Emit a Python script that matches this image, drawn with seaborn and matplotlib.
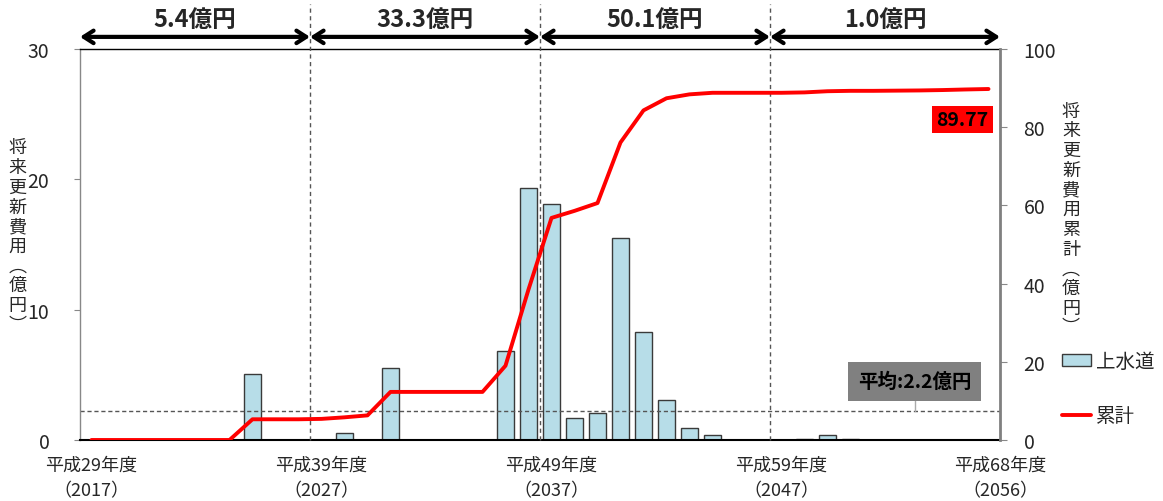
import numpy as np
import pandas as pd
import matplotlib
matplotlib.use("Agg")
import matplotlib.pyplot as plt
import matplotlib.transforms as mtransforms
from matplotlib.patches import Patch
from matplotlib.lines import Line2D
import seaborn as sns

# Fiscal years 2017..2056
years = list(range(2017, 2057))

# Annual renewal cost of the water supply (上水道), 億円
annual_cost = [
    0, 0, 0, 0, 0, 0, 0, 5.1, 0, 0,            # 2017-2026
    0, 0.5, 0, 5.5, 0, 0, 0, 0, 6.8, 19.3,     # 2027-2036
    18.1, 1.7, 2.05, 15.5, 8.3, 3.1, 0.95, 0.4, 0, 0,  # 2037-2046
    0, 0.08, 0.35, 0.05, 0, 0, 0, 0, 0, 0,     # 2047-2056
]

# Cumulative renewal cost (累計), 億円
cumulative = [
    0, 0, 0, 0, 0, 0, 0, 5.3, 5.3, 5.3,
    5.4, 5.8, 6.3, 12.3, 12.3, 12.3, 12.3, 12.3, 19.0, 38.5,
    56.8, 58.6, 60.6, 76.1, 84.3, 87.4, 88.4, 88.8, 88.8, 88.8,
    88.8, 88.9, 89.2, 89.3, 89.3, 89.35, 89.4, 89.5, 89.65, 89.77,
]

# Ten-year period totals (億円)
period_totals = ["5.4億円", "33.3億円", "50.1億円", "1.0億円"]
period_bounds = [(2017, 2026), (2027, 2036), (2037, 2046), (2047, 2056)]

average_cost = 2.2
final_total = 89.77

label_years = [2017, 2027, 2037, 2047, 2056]
label_texts = ["平成29年度\n（2017）", "平成39年度\n（2027）", "平成49年度\n（2037）",
               "平成59年度\n（2047）", "平成68年度\n（2056）"]

sns.set_style("white")
plt.rcParams["font.family"] = ["Noto Sans CJK JP", "DejaVu Sans"]

bar_color = "#B7DDE8"
bar_edge = "#3a3a3a"

df = pd.DataFrame({"year": [str(y) for y in years], "cost": annual_cost,
                   "idx": np.arange(len(years)), "cum": cumulative})

fig = plt.figure(figsize=(11.63, 5.02), dpi=100)
ax = fig.add_axes([80 / 1163, 61 / 502, 920 / 1163, 391 / 502])

sns.barplot(data=df, x="year", y="cost", order=df["year"], color=bar_color,
            saturation=1, edgecolor=bar_edge, linewidth=1.0, width=0.78, ax=ax)
ax.set_xlim(-0.5, len(years) - 0.5)
ax.set_ylim(0, 30)
ax.set_yticks([0, 10, 20, 30])
ax.set_xlabel("")
ax.set_ylabel("")

# x labels at selected years; minor ticks at every category boundary
pos = [years.index(y) for y in label_years]
ax.set_xticks(pos)
ax.set_xticklabels(label_texts, fontsize=13, linespacing=1.55)
ax.set_xticks(np.arange(-0.5, len(years), 1), minor=True)
ax.tick_params(axis="x", which="major", length=0, pad=11)
ax.tick_params(axis="x", which="minor", direction="in", length=5, color="#999999", width=1)
ax.tick_params(axis="y", which="major", direction="out", length=4, color="#888888",
               labelsize=14, pad=18)
last = ax.get_xticklabels()[-1]
last.set_transform(last.get_transform() + mtransforms.ScaledTranslation(12 / 100, 0, fig.dpi_scale_trans))

for side in ["top", "bottom"]:
    ax.spines[side].set_color("black")
ax.spines["top"].set_linewidth(1.0)
ax.spines["bottom"].set_linewidth(1.5)
ax.spines["left"].set_color("#888888")
ax.spines["left"].set_linewidth(1.0)
ax.spines["right"].set_visible(False)

# average line and its label
ax.axhline(average_cost, color="#555555", lw=1.0, ls=(0, (3, 2)), zorder=1)
lead_x = 35.8
ax.plot([lead_x, lead_x], [average_cost, 3.2], color="#aaaaaa", lw=1.0, zorder=4)
ax.text(lead_x, 4.5, f"平均:{average_cost}億円", ha="center", va="center",
        fontsize=14, fontweight="bold", color="black", zorder=5,
        bbox=dict(boxstyle="square,pad=0.5", fc="#808080", ec="none"))

# period separators and top arrows
for (start, end), txt in zip(period_bounds, period_totals):
    x0 = years.index(start) - 0.5
    x1 = years.index(end) + 0.5
    ax.annotate("", xy=(x0, 1.031), xytext=(x1, 1.031),
                xycoords=ax.get_xaxis_transform(), textcoords=ax.get_xaxis_transform(),
                arrowprops=dict(arrowstyle="<->,head_length=0.7,head_width=0.45",
                                lw=3, color="black", shrinkA=0, shrinkB=0),
                annotation_clip=False)
    ax.text((x0 + x1) / 2, 1.077, txt, transform=ax.get_xaxis_transform(),
            ha="center", va="center", fontsize=17, fontweight="bold")
for y in [2027, 2037, 2047]:
    ax.axvline(years.index(y) - 0.5, ymin=0, ymax=1.115, color="#555555", lw=1.0,
               ls=(0, (3, 2.5)), clip_on=False, zorder=3)

# cumulative line on the secondary axis
ax2 = ax.twinx()
sns.lineplot(data=df, x="idx", y="cum", color="red", lw=2.8, ax=ax2, zorder=6)
ax2.set_ylim(0, 100)
ax2.set_yticks([0, 20, 40, 60, 80, 100])
ax2.set_xlim(-0.5, len(years) - 0.5)
ax2.set_xlabel("")
ax2.set_ylabel("")
ax2.tick_params(axis="y", direction="out", length=5, color="#888888", labelsize=14, pad=12)
for side in ["top", "bottom", "left"]:
    ax2.spines[side].set_visible(False)
ax2.spines["right"].set_color("#808080")
ax2.spines["right"].set_linewidth(2.0)

ax2.text(37.87, 82.0, f"{final_total:.2f}", ha="center", va="center", fontsize=14,
         fontweight="bold", color="black",
         bbox=dict(boxstyle="square,pad=0.22", fc="red", ec="none"))

# vertical axis titles, one character per line
left_title = "将来更新費用︵億円︶"
right_title = "将来更新費用累計︵億円︶"
fig.text(17.5 / 1163, 1 - 237 / 502, "\n".join(left_title), ha="center", va="center",
         fontsize=13, linespacing=1.12)
fig.text(1071 / 1163, 1 - 220 / 502, "\n".join(right_title), ha="center", va="center",
         fontsize=13, linespacing=1.12)

handles = [Patch(facecolor=bar_color, edgecolor=bar_edge, linewidth=1.0),
           Line2D([0], [0], color="red", lw=2.8)]
fig.legend(handles, ["上水道", "累計"], loc="upper left",
           bbox_to_anchor=(1062 / 1163, 1 - 352 / 502), frameon=False,
           fontsize=14, labelspacing=1.7, handlelength=1.5, handleheight=0.6,
           handletextpad=0.25, borderpad=0, borderaxespad=0)

fig.savefig("out.png", dpi=100)
